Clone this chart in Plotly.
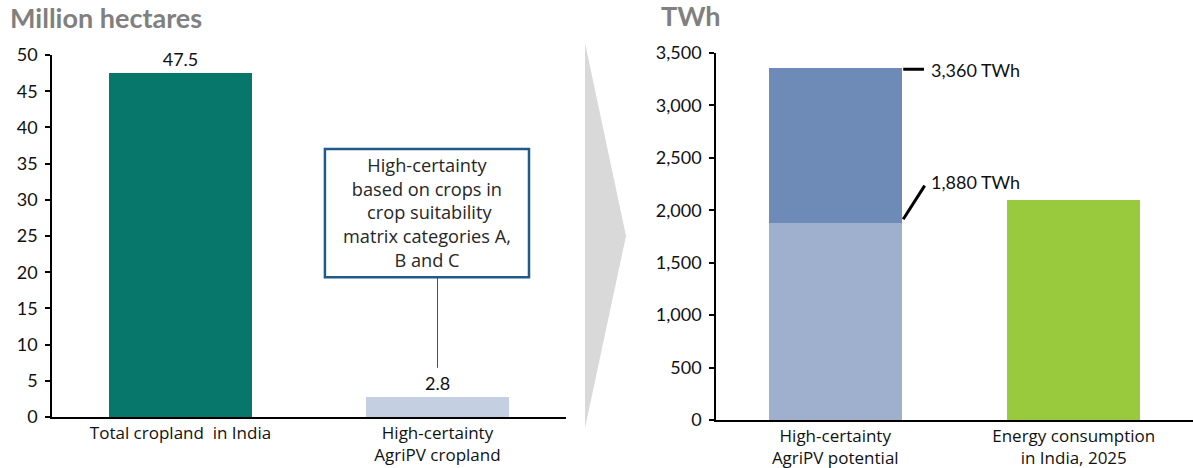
import plotly.graph_objects as go

# ---- data ----
land_categories = ["Total cropland\u00a0 in India", "High-certainty<br>AgriPV cropland"]
land_values = [47.5, 2.8]
land_labels = ["47.5", "2.8"]

energy_categories = ["High-certainty<br>AgriPV potential", "Energy consumption<br>in India, 2025"]
energy_base = [1880, 2100]          # lower stack: 1,880 TWh potential; 2,100 TWh consumption
energy_total_potential = 3360       # upper bound of AgriPV potential
energy_upper = [energy_total_potential - energy_base[0], None]

left_ticks = list(range(0, 55, 5))
right_ticks = list(range(0, 3501, 500))

# ---- styles ----
FONT = "Lato, 'Open Sans', sans-serif"
CATFONT = "'Open Sans', Lato, sans-serif"
W, H = 1193, 468
TEAL = "#07776C"
PALE = "#C4CFE2"
LIGHTBLUE = "#9EB0CE"
DARKBLUE = "#6E8BB8"
GREEN = "#99C93C"
BOXBLUE = "#1F5A8A"

def px(x):
    return x / W

def py(y):
    return 1 - y / H

fig = go.Figure()

fig.add_trace(go.Bar(
    x=land_categories, y=land_values, xaxis="x", yaxis="y",
    marker=dict(color=[TEAL, PALE], line=dict(width=0)),
    text=land_labels, textposition="outside", cliponaxis=False,
    textfont=dict(size=18, color="#111111", family=FONT),
    hoverinfo="skip", showlegend=False,
))

fig.add_trace(go.Bar(
    x=energy_categories, y=energy_base, xaxis="x2", yaxis="y2",
    marker=dict(color=[LIGHTBLUE, GREEN], line=dict(width=0)),
    hoverinfo="skip", showlegend=False,
))
fig.add_trace(go.Bar(
    x=energy_categories, y=energy_upper, xaxis="x2", yaxis="y2",
    marker=dict(color=DARKBLUE, line=dict(width=0)),
    hoverinfo="skip", showlegend=False,
))

axis_common = dict(
    showline=True, linecolor="#000000", linewidth=1.5,
    showgrid=False, zeroline=False, automargin=False,
    ticklabelstandoff=4,
    tickfont=dict(size=18, color="#111111", family=FONT),
)
xaxis_common = dict(
    ticks="", showline=True, linecolor="#000000", linewidth=1.5,
    showgrid=False, zeroline=False, automargin=False,
    tickfont=dict(size=17, color="#111111", family=CATFONT),
)

fig.update_layout(
    template="none",
    width=W, height=H,
    margin=dict(l=0, r=0, t=0, b=0, pad=0, autoexpand=False),
    paper_bgcolor="white", plot_bgcolor="white",
    barmode="stack", bargap=0.444,
    font=dict(family=FONT, color="#111111"),
    xaxis=dict(domain=[px(52), px(566)], anchor="y", **xaxis_common),
    yaxis=dict(domain=[py(417), py(55)], anchor="x", range=[0, 50],
               tickmode="array", tickvals=left_ticks,
               ticks="outside", ticklen=5, tickwidth=1.5, tickcolor="#000000",
               **axis_common),
    xaxis2=dict(domain=[px(716), 1.0], anchor="y2", **xaxis_common),
    yaxis2=dict(domain=[py(420), py(53)], anchor="x2", range=[0, 3500],
                tickmode="array", tickvals=right_ticks, tickformat=",",
                ticks="outside", ticklen=5, tickwidth=1.5, tickcolor="#000000",
                **axis_common),
)

shapes = []
# grey chevron between panels
shapes.append(dict(
    type="path", xref="paper", yref="paper",
    path=f"M {px(585)},{py(43)} L {px(626)},{py(236)} L {px(585)},{py(428)} Z",
    fillcolor="#D9D9D9", line=dict(width=0), layer="below",
))
# callout box + connector (left panel)
shapes.append(dict(
    type="rect", xref="x", yref="y", x0=0.562, x1=1.356, y0=19.3, y1=37.0,
    line=dict(color=BOXBLUE, width=2.5), fillcolor="white",
))
shapes.append(dict(
    type="line", xref="x", yref="y", x0=1, x1=1, y0=19.3, y1=6.8,
    line=dict(color=BOXBLUE, width=1),
))
# leader lines (right panel)
shapes.append(dict(
    type="line", xref="x2", yref="y2", x0=0.285, x1=0.372,
    y0=energy_total_potential - 15, y1=energy_total_potential - 15,
    line=dict(color="#000000", width=3),
))
shapes.append(dict(
    type="line", xref="x2", yref="y2", x0=0.285, x1=0.375,
    y0=energy_base[0] + 35, y1=energy_base[0] + 355,
    line=dict(color="#000000", width=3),
))
fig.update_layout(shapes=shapes)

annotations = [
    dict(text="<b>Million hectares</b>", xref="paper", yref="paper",
         x=px(8), y=py(18), xanchor="left", yanchor="middle", showarrow=False,
         font=dict(size=27, color="#808080", family=FONT)),
    dict(text="<b>TWh</b>", xref="paper", yref="paper",
         x=px(659), y=py(16), xanchor="left", yanchor="middle", showarrow=False,
         font=dict(size=27, color="#808080", family=FONT)),
    dict(text="High-certainty<br>based on crops in<br> crop suitability<br>matrix categories A,<br>B and C",
         xref="x", yref="y", x=0.959, y=28.2, xanchor="center", yanchor="middle",
         showarrow=False, align="center",
         font=dict(size=18.2, color="#262626", family=CATFONT)),
    dict(text=f"{energy_total_potential:,} TWh", xref="x2", yref="y2",
         x=0.395, y=energy_total_potential - 25, xanchor="left", yanchor="middle",
         showarrow=False, font=dict(size=18, color="#111111", family=FONT)),
    dict(text=f"{energy_base[0]:,} TWh", xref="x2", yref="y2",
         x=0.395, y=energy_base[0] + 390, xanchor="left", yanchor="middle",
         showarrow=False, font=dict(size=18, color="#111111", family=FONT)),
]
fig.update_layout(annotations=annotations)

fig.write_html("out.html")
